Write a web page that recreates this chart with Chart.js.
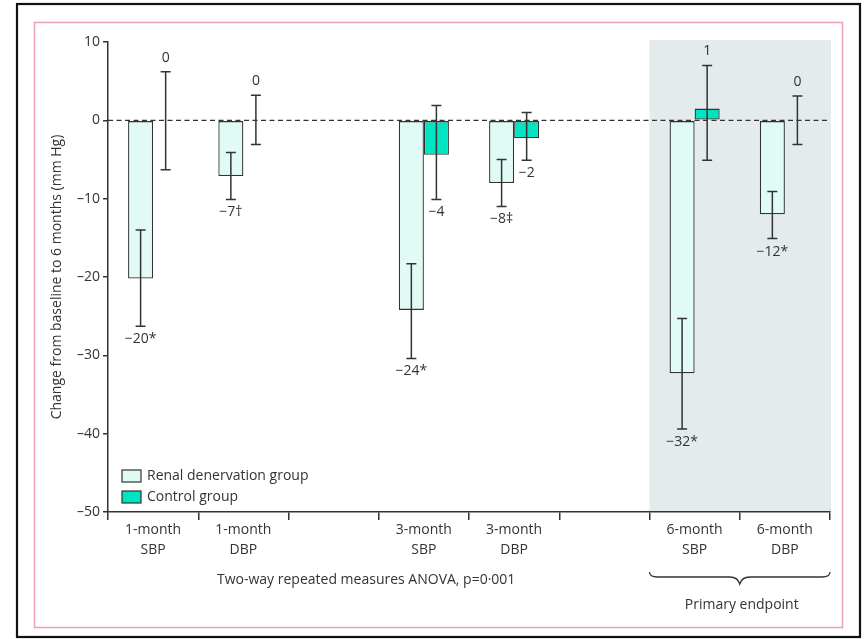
<!DOCTYPE html>
<html>
<head>
<meta charset="utf-8">
<script src="https://cdn.jsdelivr.net/npm/chart.js@4.4.1/dist/chart.umd.min.js"></script>
<style>
  html, body { margin: 0; padding: 0; background: #ffffff; }
  #wrap { width: 866px; height: 639px; position: relative; }
</style>
</head>
<body>
<div id="wrap"><canvas id="c"></canvas></div>
<script>
// ---- data ----
const categories = [['1-month','SBP'], ['1-month','DBP'], '', ['3-month','SBP'], ['3-month','DBP'], '', ['6-month','SBP'], ['6-month','DBP']];
const renalValues   = [-20.2, -7.1, null, -24.2, -8.0, null, -32.3, -12.0];
const controlValues = [0, 0, null, -4.4, -2.3, null, 1.5, 0];
const renalErrLow    = [-26.3, -10.1, null, -30.4, -11.0, null, -39.4, -15.1];
const renalErrHigh   = [-14.0, -4.1, null, -18.3, -5.0, null, -25.3, -9.1];
const controlErrLow  = [-6.3, -3.1, null, -10.1, -5.1, null, -5.1, -3.1];
const controlErrHigh = [6.2, 3.2, null, 1.9, 1.0, null, 7.0, 3.1];
const renalLabels   = ['\u221220*', '\u22127\u2020', '', '\u221224*', '\u22128\u2021', '', '\u221232*', '\u221212*'];
const controlLabels = ['0', '0', '', '\u22124', '\u22122', '', '1', '0'];
const yTicks = [10, 0, -10, -20, -30, -40, -50];
const seriesNames = ['Renal denervation group', 'Control group'];
const footnote = 'Two-way repeated measures ANOVA, p=0\u00B7001';
const bracketLabel = 'Primary endpoint';
const yTitle = 'Change from baseline to 6 months (mm Hg)';

const FONT = '"Open Sans", "Noto Sans", sans-serif';
const FS = 14;
const INK = '#333333';
const RENAL_FILL = '#e0fbf6';
const CONTROL_FILL = '#00e5c1';

const errLows = [renalErrLow, controlErrLow];
const errHighs = [renalErrHigh, controlErrHigh];
const valueLabels = [renalLabels, controlLabels];

const decorPlugin = {
  id: 'decor',
  beforeDraw(chart) {
    const ctx = chart.ctx;
    const area = chart.chartArea;
    const xs = chart.scales.x;
    const catW = (area.right - area.left) / categories.length;
    const x0 = xs.getPixelForValue(6) - catW / 2;
    ctx.save();
    ctx.fillStyle = '#e4ebed';
    ctx.fillRect(x0, area.top - 2, area.right - x0 + 1, area.bottom - area.top + 2);
    ctx.restore();
  },
  afterDatasetsDraw(chart) {
    const ctx = chart.ctx;
    const area = chart.chartArea;
    const ys = chart.scales.y;
    ctx.save();
    ctx.strokeStyle = INK;
    ctx.lineWidth = 1.4;
    ctx.setLineDash([5, 3.5]);
    ctx.beginPath();
    ctx.moveTo(area.left, ys.getPixelForValue(0));
    ctx.lineTo(area.right, ys.getPixelForValue(0));
    ctx.stroke();
    ctx.restore();
    ctx.save();
    ctx.strokeStyle = INK;
    ctx.lineWidth = 1.5;
    ctx.font = FS + 'px ' + FONT;
    ctx.fillStyle = INK;
    ctx.textAlign = 'center';
    ctx.textBaseline = 'middle';
    chart.data.datasets.forEach((ds, di) => {
      const meta = chart.getDatasetMeta(di);
      meta.data.forEach((bar, i) => {
        const lo = errLows[di][i], hi = errHighs[di][i];
        if (lo === null || hi === null) return;
        const x = bar.x;
        const yLo = ys.getPixelForValue(lo), yHi = ys.getPixelForValue(hi);
        ctx.beginPath();
        ctx.moveTo(x, yLo); ctx.lineTo(x, yHi);
        ctx.moveTo(x - 5, yLo); ctx.lineTo(x + 5, yLo);
        ctx.moveTo(x - 5, yHi); ctx.lineTo(x + 5, yHi);
        ctx.stroke();
        const lab = valueLabels[di][i];
        if (!lab) return;
        const negative = lab.charAt(0) === '\u2212';
        if (negative) ctx.fillText(lab, x, yLo + 13);
        else ctx.fillText(lab, x, yHi - 14);
      });
    });
    ctx.restore();
  },
  afterDraw(chart) {
    const ctx = chart.ctx;
    const area = chart.chartArea;
    const xs = chart.scales.x;
    const catW = (area.right - area.left) / categories.length;
    ctx.save();
    ctx.font = FS + 'px ' + FONT;
    ctx.textAlign = 'left';
    ctx.textBaseline = 'middle';
    const fills = [RENAL_FILL, CONTROL_FILL];
    seriesNames.forEach((name, k) => {
      const cy = 476 + k * 21;
      ctx.fillStyle = fills[k];
      ctx.fillRect(122, cy - 6, 19, 12);
      ctx.strokeStyle = INK;
      ctx.lineWidth = 1.2;
      ctx.strokeRect(122, cy - 6, 19, 12);
      ctx.fillStyle = INK;
      ctx.fillText(name, 147, cy);
    });
    ctx.textAlign = 'left';
    ctx.fillText(footnote, 217, 580);
    const bx0 = xs.getPixelForValue(6) - catW / 2;
    const bx1 = area.right;
    const bm = (bx0 + bx1) / 2;
    const by = 577;
    ctx.beginPath();
    ctx.lineWidth = 1.3;
    ctx.strokeStyle = INK;
    ctx.moveTo(bx0, by - 5);
    ctx.quadraticCurveTo(bx0, by, bx0 + 8, by);
    ctx.lineTo(bm - 10, by);
    ctx.quadraticCurveTo(bm - 2, by, bm, by + 7);
    ctx.quadraticCurveTo(bm + 2, by, bm + 10, by);
    ctx.lineTo(bx1 - 8, by);
    ctx.quadraticCurveTo(bx1, by, bx1, by - 5);
    ctx.stroke();
    ctx.textAlign = 'center';
    ctx.fillText(bracketLabel, bm + 2, 605);
    ctx.strokeStyle = '#e8a0b6';
    ctx.lineWidth = 1.5;
    ctx.strokeRect(34.5, 22.5, 808, 605);
    ctx.strokeStyle = '#111111';
    ctx.lineWidth = 2.2;
    ctx.strokeRect(17, 4, 843, 633);
    ctx.restore();
  }
};

new Chart(document.getElementById('c'), {
  type: 'bar',
  data: {
    labels: categories,
    datasets: [
      {
        label: seriesNames[0],
        data: renalValues,
        backgroundColor: RENAL_FILL,
        borderColor: INK,
        borderWidth: (c) => (c.raw === 0 ? 0 : 1.3),
        borderSkipped: false,
        categoryPercentage: 0.555,
        barPercentage: 1.0
      },
      {
        label: seriesNames[1],
        data: controlValues,
        backgroundColor: CONTROL_FILL,
        borderColor: INK,
        borderWidth: (c) => (c.raw === 0 ? 0 : 1.3),
        borderSkipped: false,
        categoryPercentage: 0.555,
        barPercentage: 1.0
      }
    ]
  },
  options: {
    responsive: true,
    maintainAspectRatio: false,
    animation: false,
    layout: { padding: { left: 0, top: 42, right: 36, bottom: 67 } },
    plugins: {
      legend: { display: false },
      tooltip: { enabled: false }
    },
    scales: {
      x: {
        offset: true,
        grid: { offset: true, drawOnChartArea: false, drawTicks: true, tickLength: 8, color: INK, lineWidth: 1.5 },
        border: { display: true, color: INK, width: 1.5 },
        ticks: { color: INK, font: { family: FONT, size: FS, lineHeight: 1.43 }, padding: 0, maxRotation: 0, autoSkip: false },
        afterFit(s) { s.height = 60; }
      },
      y: {
        min: -50,
        max: 10,
        afterBuildTicks(s) { s.ticks = yTicks.map(v => ({ value: v })); },
        grid: { drawOnChartArea: false, drawTicks: true, tickLength: 5, color: INK, lineWidth: 1.5 },
        border: { display: true, color: INK, width: 1.5 },
        ticks: {
          color: INK,
          padding: 3,
          font: { family: FONT, size: FS },
          callback: (v) => String(v).replace('-', '\u2013')
        },
        title: { display: true, text: yTitle, color: INK, font: { family: FONT, size: FS }, padding: { top: 49, bottom: 0 } },
        afterFit(s) { s.width = 108; }
      }
    }
  },
  plugins: [decorPlugin]
});
</script>
</body>
</html>
